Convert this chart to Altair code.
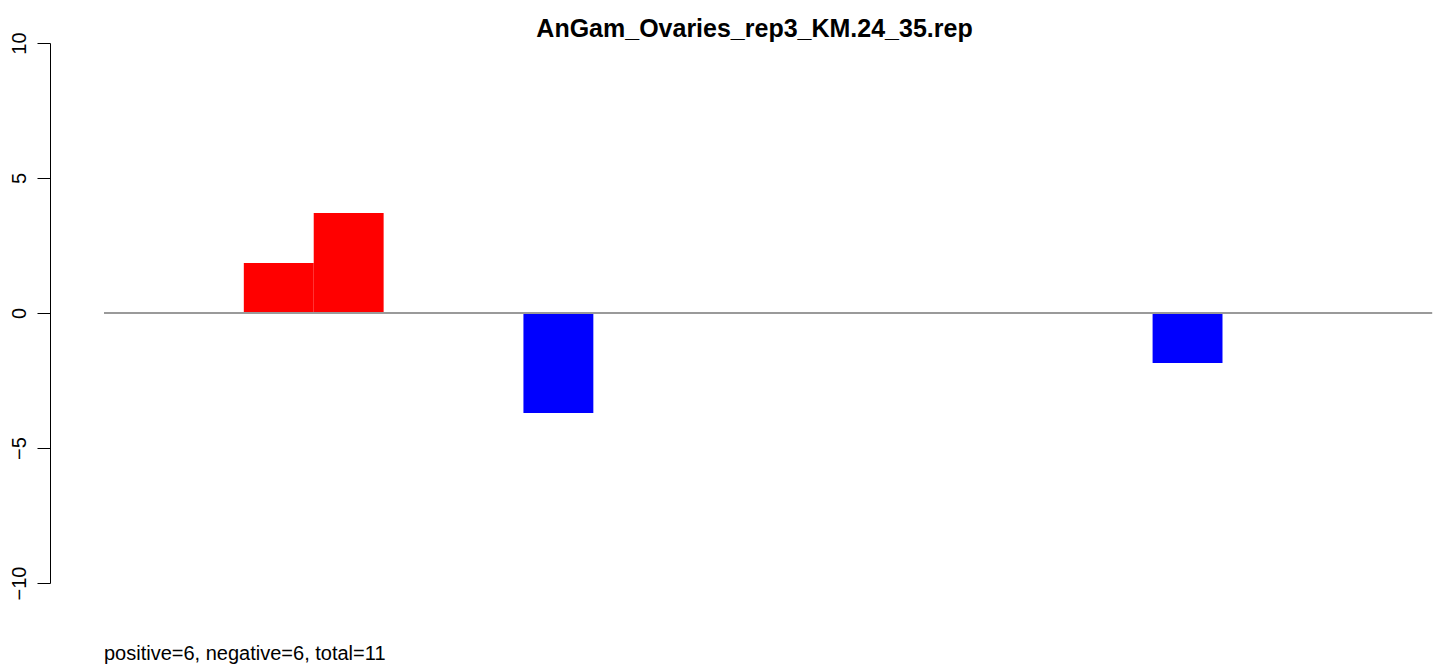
import altair as alt
import pandas as pd

# --- data ---
bar_values = [0, 0, 1.85, 3.7, 0, 0, -3.7, 0, 0, 0, 0, 0, 0, 0, 0, -1.85, 0, 0, 0]
y_ticks = [-10, -5, 0, 5, 10]
title_text = "AnGam_Ovaries_rep3_KM.24_35.rep"
footer_text = "positive=6, negative=6, total=11"
pos_color = "#FF0000"
neg_color = "#0000FF"

n = len(bar_values)
df = pd.DataFrame({
    "x0": list(range(n)),
    "x1": [i + 1 for i in range(n)],
    "value": bar_values,
    "zero": [0] * n,
    "sign": ["pos" if v > 0 else ("neg" if v < 0 else "none") for v in bar_values],
})

xscale = alt.Scale(domain=[-0.7725, 19.14], nice=False, zero=False)
yscale = alt.Scale(domain=[-10, 10], nice=False)

bars = alt.Chart(df).transform_filter("datum.value != 0").mark_rect(strokeWidth=0).encode(
    x=alt.X("x0:Q", scale=xscale, axis=None),
    x2="x1:Q",
    y=alt.Y("zero:Q", scale=yscale,
            axis=alt.Axis(values=y_ticks, title=None, grid=False, labelAngle=-90,
                          labelAlign="center", labelBaseline="alphabetic",
                          labelFontSize=20, labelFont="Liberation Sans", labelColor="black",
                          labelPadding=12, tickSize=13, tickColor="black", domainColor="black",
                          tickWidth=1, domainWidth=1)),
    y2="value:Q",
    color=alt.Color("sign:N", scale=alt.Scale(domain=["pos", "neg"], range=[pos_color, neg_color]),
                    legend=None),
)

line_df = pd.DataFrame({"xa": [0], "xb": [n], "y": [0]})
baseline = alt.Chart(line_df).mark_rule(color="#9a9a9a", strokeWidth=2).encode(
    x=alt.X("xa:Q", scale=xscale, axis=None),
    x2="xb:Q",
    y=alt.Y("y:Q", scale=yscale),
)

footer = alt.Chart(pd.DataFrame({"t": [footer_text]})).mark_text(
    align="left", baseline="alphabetic", fontSize=20, font="Liberation Sans", color="black"
).encode(text="t:N", x=alt.value(54), y=alt.value(617))

title = alt.Chart(pd.DataFrame({"t": [title_text]})).mark_text(
    align="center", baseline="alphabetic", fontSize=25, font="Liberation Sans",
    fontWeight="bold", color="black"
).encode(text="t:N", x=alt.value(704.5), y=alt.value(-6))

chart = alt.layer(bars, baseline, footer, title).properties(
    width=1392,
    height=540,
    autosize=alt.AutoSizeParams(type="none"),
    padding={"left": 42, "top": 35, "right": 0, "bottom": 85},
).configure_view(stroke=None)

chart.save("out.html", embed_options={"renderer": "svg", "actions": False})
